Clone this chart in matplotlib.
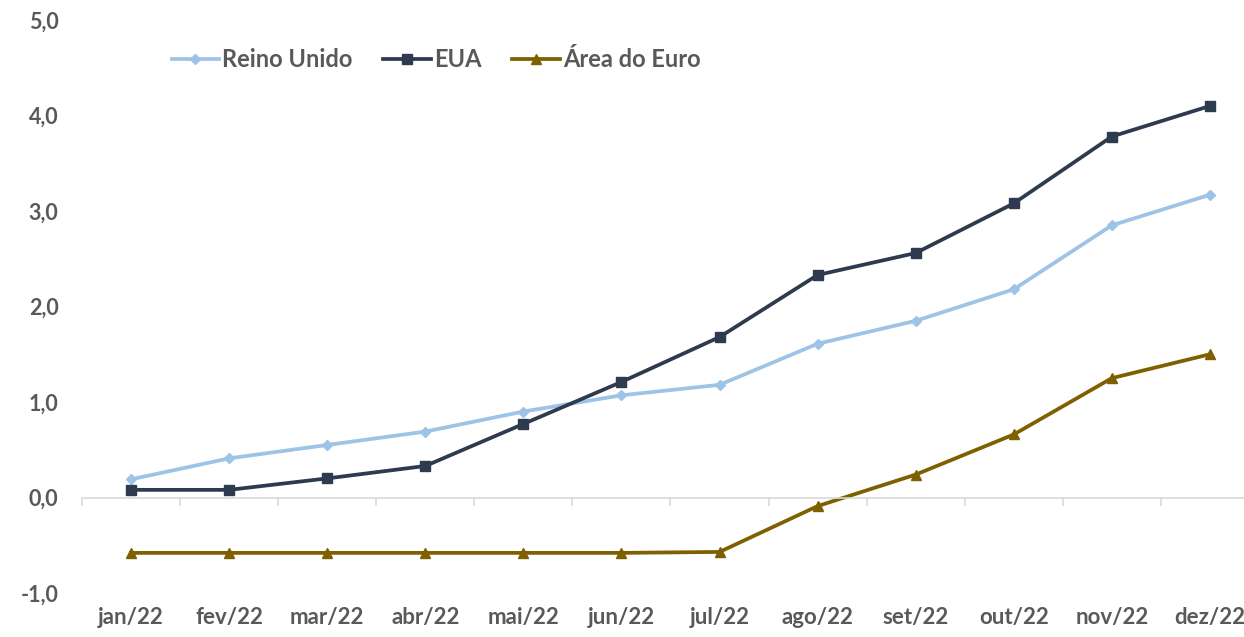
import matplotlib
matplotlib.use("Agg")
import matplotlib.pyplot as plt
import matplotlib.transforms as mtransforms

# dados (% a.a.)
meses = ["jan/22", "fev/22", "mar/22", "abr/22", "mai/22", "jun/22",
         "jul/22", "ago/22", "set/22", "out/22", "nov/22", "dez/22"]
reino_unido = [0.19, 0.41, 0.55, 0.69, 0.90, 1.07, 1.18, 1.61, 1.85, 2.18, 2.85, 3.17]
eua = [0.08, 0.08, 0.20, 0.33, 0.77, 1.21, 1.68, 2.33, 2.56, 3.08, 3.78, 4.10]
area_euro = [-0.58, -0.58, -0.58, -0.58, -0.58, -0.58, -0.57, -0.09, 0.24, 0.66, 1.25, 1.50]
yticks = [-1, 0, 1, 2, 3, 4, 5]

cor_texto = "#595959"
plt.rcParams['font.family'] = ['Lato', 'DejaVu Sans']

fig = plt.figure(figsize=(12.44, 6.37), dpi=100)
ax = fig.add_axes([82/1244, 44/637, (1259-82)/1244, (593-20)/637])

x = list(range(len(meses)))
ax.plot(x, reino_unido, color="#9DC3E6", lw=2.7, marker="D", ms=5, label="Reino Unido")
ax.plot(x, eua, color="#2E3A4D", lw=2.7, marker="s", ms=7.5, label="EUA")
ax.plot(x, area_euro, color="#7F6000", lw=2.7, marker="^", ms=7, label="Área do Euro")

ax.set_xlim(-0.5, len(meses) - 0.5)
ax.set_ylim(-1, 5)

# eixo horizontal em zero, com marcas entre categorias
for s in ["top", "right", "left"]:
    ax.spines[s].set_visible(False)
ax.spines["bottom"].set_position(("data", 0))
ax.spines["bottom"].set_color("#D9D9D9")
ax.spines["bottom"].set_linewidth(1.2)
ax.set_xticks([i - 0.5 for i in range(len(meses) + 1)])
ax.set_xticklabels([])
ax.tick_params(axis="x", length=6, color="#D9D9D9", width=1.2, direction="out")

trans = mtransforms.blended_transform_factory(ax.transData, ax.transAxes)
for i, m in enumerate(meses):
    ax.text(i, -0.025, m, transform=trans, ha="center", va="top",
            fontsize=16, fontweight="bold", color=cor_texto)

ax.set_yticks(yticks)
ax.set_yticklabels([f"{v:.1f}".replace(".", ",") for v in yticks])
ax.tick_params(axis="y", length=0, pad=17, labelsize=15.5, labelcolor=cor_texto)
for t in ax.get_yticklabels():
    t.set_fontweight("bold")

leg = ax.legend(loc="upper left", bbox_to_anchor=(0.058, 0.988), ncol=3, frameon=False,
                fontsize=17, handlelength=2.0, columnspacing=1.3, handletextpad=0.15)
for t in leg.get_texts():
    t.set_color(cor_texto)
    t.set_fontweight("bold")

fig.savefig("out.png", dpi=100, facecolor="white")
